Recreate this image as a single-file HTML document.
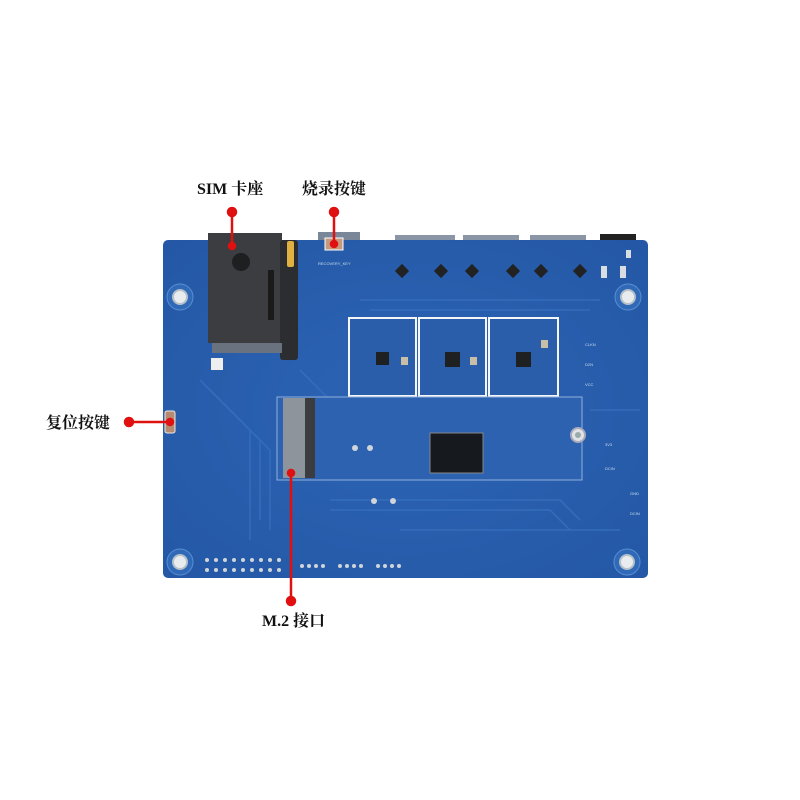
<!DOCTYPE html>
<html><head><meta charset="utf-8"><style>
html,body{margin:0;padding:0;background:#fff;width:800px;height:800px;overflow:hidden}
svg{display:block}
.t{font-family:"Liberation Serif","Noto Serif CJK SC",serif;font-weight:bold;font-size:16px;fill:#111}
.s{font-family:"Liberation Sans",sans-serif;font-size:4px;fill:#cde}
</style></head><body>
<svg width="800" height="800" viewBox="0 0 800 800">
<defs>
<radialGradient id="bg" cx="50%" cy="50%" r="70%"><stop offset="0" stop-color="#2c64b4"/><stop offset="1" stop-color="#2458a6"/></radialGradient>
</defs>
<!-- top connectors -->
<rect x="318" y="232" width="42" height="10" fill="#7a8798"/>
<rect x="395" y="235" width="60" height="8" fill="#8a96a6"/>
<rect x="463" y="235" width="56" height="8" fill="#8a96a6"/>
<rect x="530" y="235" width="56" height="8" fill="#8a96a6"/>
<rect x="600" y="234" width="36" height="8" fill="#222"/>
<!-- board -->
<rect x="163" y="240" width="485" height="338" rx="5" fill="url(#bg)"/>
<!-- trace texture -->
<g stroke="#3a74c2" stroke-width="1.5" fill="none" opacity="0.7">
<path d="M200 380 L260 440 L260 520"/><path d="M210 390 L270 450 L270 530"/>
<path d="M220 400 L250 430 L250 540"/><path d="M330 500 L560 500 L580 520"/>
<path d="M330 510 L550 510 L570 530"/><path d="M400 530 L620 530"/>
<path d="M360 300 L600 300"/><path d="M370 310 L590 310"/>
<path d="M300 370 L340 410"/><path d="M590 410 L640 410"/>
</g>
<!-- mounting holes -->
<g>
<circle cx="180" cy="297" r="13" fill="#2f69b8" stroke="#5a8fd0"/><circle cx="180" cy="297" r="7" fill="#e8ecef" stroke="#b5c0c8" stroke-width="2"/>
<circle cx="628" cy="297" r="13" fill="#2f69b8" stroke="#5a8fd0"/><circle cx="628" cy="297" r="7" fill="#e8ecef" stroke="#b5c0c8" stroke-width="2"/>
<circle cx="180" cy="562" r="13" fill="#2f69b8" stroke="#5a8fd0"/><circle cx="180" cy="562" r="7" fill="#e8ecef" stroke="#b5c0c8" stroke-width="2"/>
<circle cx="627" cy="562" r="13" fill="#2f69b8" stroke="#5a8fd0"/><circle cx="627" cy="562" r="7" fill="#e8ecef" stroke="#b5c0c8" stroke-width="2"/>
</g>
<!-- SIM holder -->
<rect x="208" y="233" width="74" height="110" fill="#3b3d40"/>
<rect x="280" y="240" width="18" height="120" rx="3" fill="#2b2d30"/>
<rect x="287" y="241" width="7" height="26" rx="2" fill="#e0b040"/>
<circle cx="241" cy="262" r="9" fill="#1e1f21"/>
<rect x="268" y="270" width="6" height="50" fill="#1a1a1a"/>
<rect x="212" y="343" width="70" height="10" fill="#6a7280"/>
<!-- button top -->
<rect x="325" y="238" width="18" height="12" fill="#c79a80" stroke="#fff"/>
<text x="318" y="265" class="s">RECOVERY_KEY</text>
<!-- top components -->
<g fill="#222"><rect x="397" y="266" width="10" height="10" transform="rotate(45 402 271)"/>
<rect x="436" y="266" width="10" height="10" transform="rotate(45 441 271)"/>
<rect x="467" y="266" width="10" height="10" transform="rotate(45 472 271)"/>
<rect x="508" y="266" width="10" height="10" transform="rotate(45 513 271)"/>
<rect x="536" y="266" width="10" height="10" transform="rotate(45 541 271)"/>
<rect x="575" y="266" width="10" height="10" transform="rotate(45 580 271)"/></g>
<g fill="#d8dde2"><rect x="601" y="266" width="6" height="12"/><rect x="620" y="266" width="6" height="12"/><rect x="626" y="250" width="5" height="8"/></g>
<!-- shields -->
<g fill="#2a5eaa" stroke="#f4f6f8" stroke-width="2">
<rect x="349" y="318" width="67" height="78"/><rect x="419" y="318" width="67" height="78"/><rect x="489" y="318" width="69" height="78"/></g>
<g fill="#1f2022"><rect x="376" y="352" width="13" height="13"/><rect x="445" y="352" width="15" height="15"/><rect x="516" y="352" width="15" height="15"/></g>
<g fill="#c9bfa8"><rect x="401" y="357" width="7" height="8"/><rect x="470" y="357" width="7" height="8"/><rect x="541" y="340" width="7" height="8"/></g>
<!-- M.2 area -->
<rect x="277" y="397" width="305" height="83" fill="#2c62b0" stroke="#8fb0dc" stroke-width="1"/>
<rect x="283" y="398" width="22" height="80" fill="#8d949c"/>
<rect x="305" y="398" width="10" height="80" fill="#3a3c40"/>
<rect x="430" y="433" width="53" height="40" fill="#16191e" stroke="#888" stroke-width="1"/>
<circle cx="578" cy="435" r="7" fill="#dfe3e6" stroke="#aab" stroke-width="2"/><circle cx="578" cy="435" r="3" fill="#9aa"/>
<!-- reset button -->
<rect x="165" y="411" width="10" height="22" rx="2" fill="#b58a70" stroke="#f0e8e0"/>
<!-- small white components -->
<rect x="211" y="358" width="12" height="12" fill="#eee"/>
<!-- header pins bottom -->
<g fill="#d0d5da">
<circle cx="207" cy="560" r="2"/><circle cx="216" cy="560" r="2"/><circle cx="225" cy="560" r="2"/><circle cx="234" cy="560" r="2"/><circle cx="243" cy="560" r="2"/><circle cx="252" cy="560" r="2"/><circle cx="261" cy="560" r="2"/><circle cx="270" cy="560" r="2"/><circle cx="279" cy="560" r="2"/>
<circle cx="207" cy="570" r="2"/><circle cx="216" cy="570" r="2"/><circle cx="225" cy="570" r="2"/><circle cx="234" cy="570" r="2"/><circle cx="243" cy="570" r="2"/><circle cx="252" cy="570" r="2"/><circle cx="261" cy="570" r="2"/><circle cx="270" cy="570" r="2"/><circle cx="279" cy="570" r="2"/>
<circle cx="302" cy="566" r="2"/><circle cx="309" cy="566" r="2"/><circle cx="316" cy="566" r="2"/><circle cx="323" cy="566" r="2"/>
<circle cx="340" cy="566" r="2"/><circle cx="347" cy="566" r="2"/><circle cx="354" cy="566" r="2"/><circle cx="361" cy="566" r="2"/>
<circle cx="378" cy="566" r="2"/><circle cx="385" cy="566" r="2"/><circle cx="392" cy="566" r="2"/><circle cx="399" cy="566" r="2"/>
<circle cx="374" cy="501" r="3"/><circle cx="393" cy="501" r="3"/><circle cx="355" cy="448" r="3"/><circle cx="370" cy="448" r="3"/>
</g>
<!-- right side labels -->
<g class="s"><text x="585" y="346">CLKN</text><text x="585" y="366">D2N</text><text x="585" y="386">VCC</text><text x="605" y="446">3V3</text><text x="605" y="470">DCIN</text><text x="630" y="495">GND</text><text x="630" y="515">DCIN</text></g>
<!-- callouts -->
<g stroke="#e01010" stroke-width="2.5" fill="#e01010">
<line x1="232" y1="212" x2="232" y2="246"/><circle cx="232" cy="212" r="4"/><circle cx="232" cy="246" r="3"/>
<line x1="334" y1="212" x2="334" y2="244"/><circle cx="334" cy="212" r="4"/><circle cx="334" cy="244" r="3"/>
<line x1="129" y1="422" x2="170" y2="422"/><circle cx="129" cy="422" r="4"/><circle cx="170" cy="422" r="3"/>
<line x1="291" y1="473" x2="291" y2="601"/><circle cx="291" cy="473" r="3"/><circle cx="291" cy="601" r="4"/>
</g>
<text x="197" y="194" class="t">SIM 卡座</text>
<text x="302" y="194" class="t">烧录按键</text>
<text x="46" y="428" class="t">复位按键</text>
<text x="262" y="626" class="t">M.2 接口</text>
</svg>
</body></html>
